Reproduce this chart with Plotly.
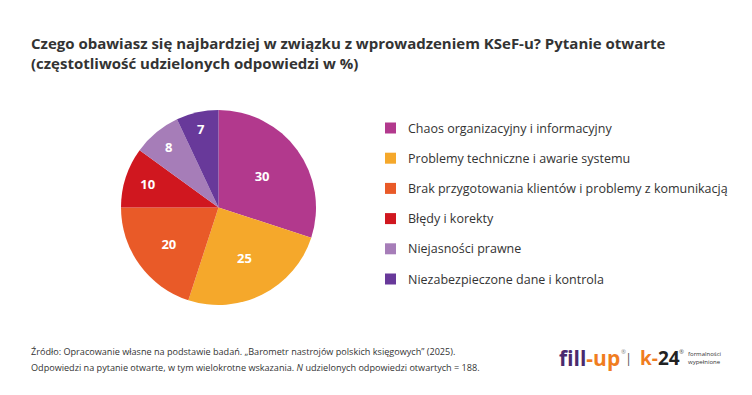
import plotly.graph_objects as go

W, H = 744, 387   # page body has an 8px margin
OFF = 8

categories = [
    "Chaos organizacyjny i informacyjny",
    "Problemy techniczne i awarie systemu",
    "Brak przygotowania klientów i problemy z komunikacją",
    "Błędy i korekty",
    "Niejasności prawne",
    "Niezabezpieczone dane i kontrola",
]
values = [30, 25, 20, 10, 8, 7]
colors = ["#B2398D", "#F5A82B", "#E95A28", "#D0171F", "#A67DB8", "#68399A"]

title_lines = [
    "Czego obawiasz się najbardziej w związku z wprowadzeniem KSeF-u? Pytanie otwarte",
    "(częstotliwość udzielonych odpowiedzi w %)",
]
footer_lines = [
    "Źródło: Opracowanie własne na podstawie badań. „Barometr nastrojów polskich księgowych” (2025).",
    "Odpowiedzi na pytanie otwarte, w tym wielokrotne wskazania. <i>N</i> udzielonych odpowiedzi otwartych = 188.",
]

def px(x):
    return (x - OFF) / W

def py(y):
    return 1 - (y - OFF) / H

fig = go.Figure()
fig.add_trace(go.Pie(
    labels=categories,
    values=values,
    sort=False,
    direction="clockwise",
    rotation=0,
    marker=dict(colors=colors, line=dict(width=0)),
    textinfo="value",
    textposition="inside",
    insidetextorientation="horizontal",
    textfont=dict(family="Open Sans", size=13, color="white", weight="bold"),
    domain=dict(x=[px(121), px(316)], y=[py(305), py(110)]),
    showlegend=False,
    hoverinfo="label+value",
))

annotations = []
shapes = []

FONT = "Open Sans"
TXT = "#333333"

def txt(x, y, text, size, color=TXT, weight="normal", xanchor="left", family=FONT, align="left"):
    annotations.append(dict(
        x=px(x), y=py(y), xref="paper", yref="paper",
        text=text, showarrow=False, xanchor=xanchor, yanchor="middle", align=align,
        font=dict(family=family, size=size, color=color, weight=weight),
    ))

# title
for i, t in enumerate(title_lines):
    txt(29, 43 + i * 20, t, 15, weight="bold")

# legend
leg_y0, leg_dy = 128, 30.2
for i, (lab, col) in enumerate(zip(categories, colors)):
    cy = leg_y0 + i * leg_dy
    shapes.append(dict(
        type="rect", xref="paper", yref="paper",
        x0=px(385), x1=px(396), y0=py(cy + 5.5), y1=py(cy - 5.5),
        fillcolor=col, line=dict(width=0),
    ))
    txt(406, cy, lab, 12.5)

# footer
for i, t in enumerate(footer_lines):
    txt(29, 351 + i * 16, t, 9.1)

# logos
PURPLE_DARK = "#4B2A6E"
ORANGE = "#F07D1F"
txt(557, 358, f"<span style='color:{PURPLE_DARK}'>fill</span><span style='color:{ORANGE}'>-up</span>",
    21, weight="bold")
txt(619, 352, "®", 6, color="#888888")
txt(628, 358, "|", 13, color="#555555", xanchor="center")
txt(638, 358, f"<span style='color:{ORANGE}'>k-</span><span style='color:#222222'>24</span>",
    19, weight="bold")
txt(677, 352, "®", 6, color="#555555")
txt(686, 358, "formalności<br>wypełnione", 6)

fig.update_layout(
    width=W, height=H,
    margin=dict(l=0, r=0, t=0, b=0),
    paper_bgcolor="white", plot_bgcolor="white",
    annotations=annotations, shapes=shapes,
    showlegend=False,
)

fig.write_html("out.html")
